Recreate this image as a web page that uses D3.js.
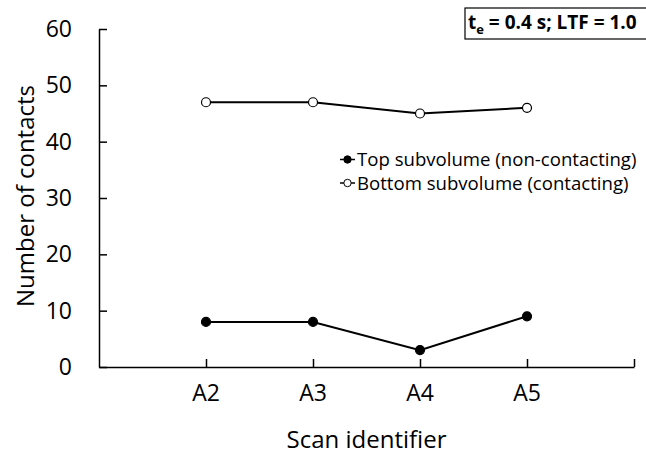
<!DOCTYPE html>
<html>
<head>
<meta charset="utf-8">
<script src="https://cdn.jsdelivr.net/npm/d3@7"></script>
<style>
  body { margin: 0; background: #fff; }
  text { font-family: "Open Sans", "Noto Sans", sans-serif; }
</style>
</head>
<body>
<script>
// chart data
const scans = ['A2', 'A3', 'A4', 'A5'];
const topValues = [8, 8, 3, 9];
const bottomValues = [47, 47, 45, 46];
const yTicks = [0, 10, 20, 30, 40, 50, 60];

const width = 646, height = 454;
const plotLeft = 99, plotRight = 634, plotTop = 29, plotBottom = 367;

const svg = d3.select('body').append('svg')
  .attr('width', width)
  .attr('height', height);

// x runs over 0..5, categories sit at 1..4
const x = d3.scaleLinear().domain([0, scans.length + 1]).range([plotLeft, plotRight]);
const y = d3.scaleLinear().domain([0, 60]).range([plotBottom, plotTop]);

// y axis, ticks pointing inward
const yAxis = d3.axisRight(y).tickValues(yTicks).tickSize(8).tickSizeOuter(0).tickFormat('');
svg.append('g')
  .attr('transform', `translate(${plotLeft},0)`)
  .call(yAxis)
  .call(g => g.selectAll('line, path').attr('stroke', '#000').attr('stroke-width', 1.5));

svg.append('g').selectAll('text')
  .data(yTicks)
  .join('text')
  .attr('x', 72)
  .attr('y', d => y(d) + 8)
  .attr('text-anchor', 'end')
  .attr('font-size', 23)
  .attr('fill', '#000')
  .text(d => d);

// x axis, ticks pointing up
const xAxis = d3.axisTop(x).tickValues([1, 2, 3, 4, 5]).tickSize(8).tickSizeOuter(0).tickFormat('');
svg.append('g')
  .attr('transform', `translate(0,${plotBottom})`)
  .call(xAxis)
  .call(g => g.selectAll('line, path').attr('stroke', '#000').attr('stroke-width', 1.5));

svg.append('g').selectAll('text')
  .data(scans)
  .join('text')
  .attr('x', (d, i) => x(i + 1))
  .attr('y', 401)
  .attr('text-anchor', 'middle')
  .attr('font-size', 23)
  .attr('fill', '#000')
  .text(d => d);

// axis titles
svg.append('text')
  .attr('x', x(2.5))
  .attr('y', 448)
  .attr('text-anchor', 'middle')
  .attr('font-size', 24)
  .text('Scan identifier');

svg.append('text')
  .attr('transform', `translate(34,196) rotate(-90)`)
  .attr('text-anchor', 'middle')
  .attr('font-size', 24)
  .text('Number of contacts');

// lines
const lineFunc = d3.line()
  .x((d, i) => x(i + 1))
  .y(d => y(d));

const series = [
  { values: topValues, fill: '#000', label: 'Top subvolume (non-contacting)' },
  { values: bottomValues, fill: '#fff', label: 'Bottom subvolume (contacting)' }
];

series.forEach(s => {
  svg.append('path')
    .attr('d', lineFunc(s.values))
    .attr('fill', 'none')
    .attr('stroke', '#000')
    .attr('stroke-width', 2);

  svg.append('g').selectAll('circle')
    .data(s.values)
    .join('circle')
    .attr('cx', (d, i) => x(i + 1))
    .attr('cy', d => y(d))
    .attr('r', 4.5)
    .attr('fill', s.fill)
    .attr('stroke', '#000')
    .attr('stroke-width', 1.2);
});

// legend
series.forEach((s, i) => {
  const ly = 159.5 + i * 23.5;
  svg.append('line')
    .attr('x1', 340).attr('x2', 355)
    .attr('y1', ly).attr('y2', ly)
    .attr('stroke', '#000')
    .attr('stroke-width', 1.5);
  svg.append('circle')
    .attr('cx', 347.5).attr('cy', ly)
    .attr('r', 3.7)
    .attr('fill', s.fill)
    .attr('stroke', '#000')
    .attr('stroke-width', 1);
  svg.append('text')
    .attr('x', 357)
    .attr('y', ly + 6.5)
    .attr('font-size', 18.6)
    .text(s.label);
});

// parameter box
svg.append('rect')
  .attr('x', 465).attr('y', 8)
  .attr('width', 190).attr('height', 31)
  .attr('fill', '#fff')
  .attr('stroke', '#000')
  .attr('stroke-width', 1.2);

const boxText = svg.append('text')
  .attr('x', 468)
  .attr('y', 28.5)
  .attr('font-size', 19)
  .attr('font-weight', 'bold');
boxText.append('tspan').text('t');
boxText.append('tspan').attr('dy', 5).attr('font-size', 13).text('e');
boxText.append('tspan').attr('dy', -5).text(' = 0.4 s; LTF = 1.0');
</script>
</body>
</html>
